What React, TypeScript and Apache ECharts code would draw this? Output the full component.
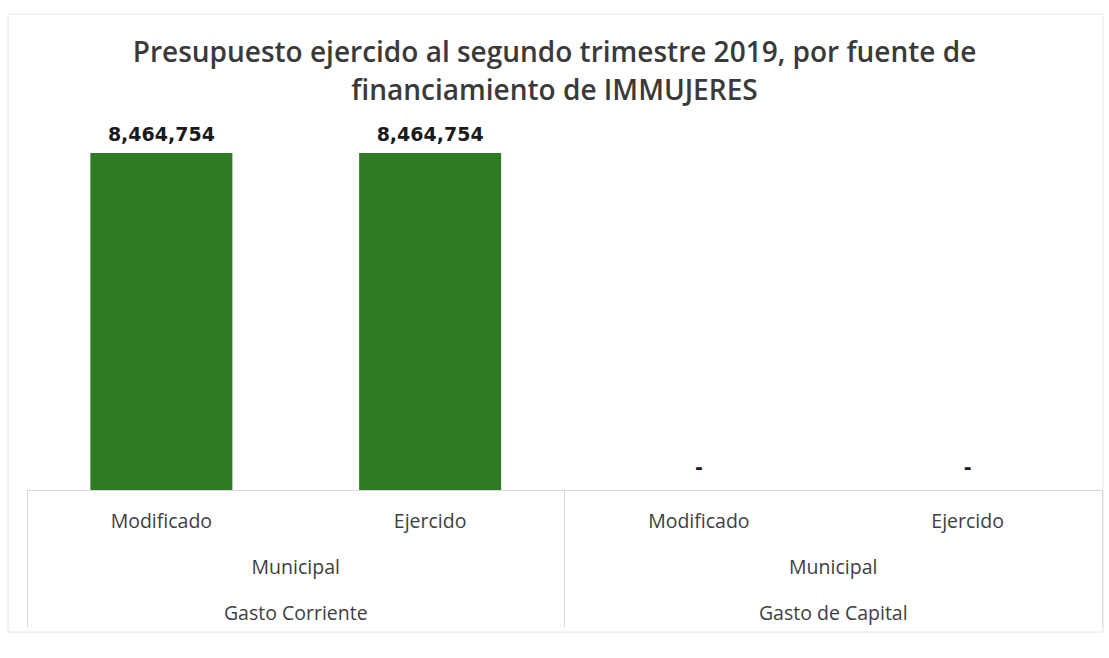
import React, { useEffect, useRef } from "react";
import * as echarts from "echarts";

const subCategories = ["Modificado", "Ejercido", "Modificado", "Ejercido"];
const fuenteLabels = ["Municipal", "Municipal"];
const gastoLabels = ["Gasto Corriente", "Gasto de Capital"];
const values = [8464754, 8464754, 0, 0];
const titleText = "Presupuesto ejercido al segundo trimestre 2019, por fuente de\nfinanciamiento de IMMUJERES";

const fmt = (v: number) => (v === 0 ? "-" : v.toLocaleString("en-US"));

export default function App() {
  const ref = useRef<HTMLDivElement>(null);
  useEffect(() => {
    if (!ref.current) return;
    const chart = echarts.init(ref.current, undefined, { renderer: "svg" });
    const labelFont = { fontFamily: "Open Sans", fontSize: 19.5, color: "#404040" };
    chart.setOption({
      animation: false,
      backgroundColor: "#ffffff",
      title: {
        text: titleText,
        left: "center",
        top: 27,
        textStyle: {
          fontFamily: "Open Sans",
          fontWeight: 600,
          fontSize: 28,
          lineHeight: 38,
          color: "#3a3a3a",
        },
      },
      graphic: [
        {
          type: "rect",
          shape: { x: 8, y: 14, width: 1095, height: 618 },
          style: { fill: "none", stroke: "#e6e6e6", lineWidth: 1 },
          silent: true,
        },
      ],
      grid: { left: 27, right: 7, top: 153, bottom: 168 },
      xAxis: [
        {
          type: "category",
          data: subCategories,
          position: "bottom",
          axisLine: { show: true, lineStyle: { color: "#d9d9d9", width: 1 } },
          axisTick: { show: false },
          axisLabel: { ...labelFont, margin: 20, interval: 0 },
        },
        {
          type: "category",
          data: fuenteLabels,
          position: "bottom",
          axisLine: { show: false },
          axisTick: { show: true, length: 137, lineStyle: { color: "#d9d9d9", width: 1 } },
          axisLabel: { ...labelFont, margin: 66, interval: 0 },
        },
        {
          type: "category",
          data: gastoLabels,
          position: "bottom",
          axisLine: { show: false },
          axisTick: { show: false },
          axisLabel: { ...labelFont, margin: 112, interval: 0 },
        },
      ],
      yAxis: { type: "value", min: 0, max: 8464754, show: false },
      series: [
        {
          type: "bar",
          xAxisIndex: 0,
          data: values.map((v) => (v === 0 ? { value: v, label: { distance: 14 } } : v)),
          barWidth: 142,
          itemStyle: { color: "#2E7B24" },
          label: {
            show: true,
            position: "top",
            distance: 10,
            formatter: (p: any) => fmt(p.value),
            fontFamily: "DejaVu Sans",
            fontWeight: "bold",
            fontSize: 19,
            color: "#1a1a1a",
          },
        },
      ],
    });
    return () => chart.dispose();
  }, []);
  return (
    <div
      ref={ref}
      style={{ position: "fixed", left: 0, top: 0, width: 1109, height: 658 }}
    />
  );
}
